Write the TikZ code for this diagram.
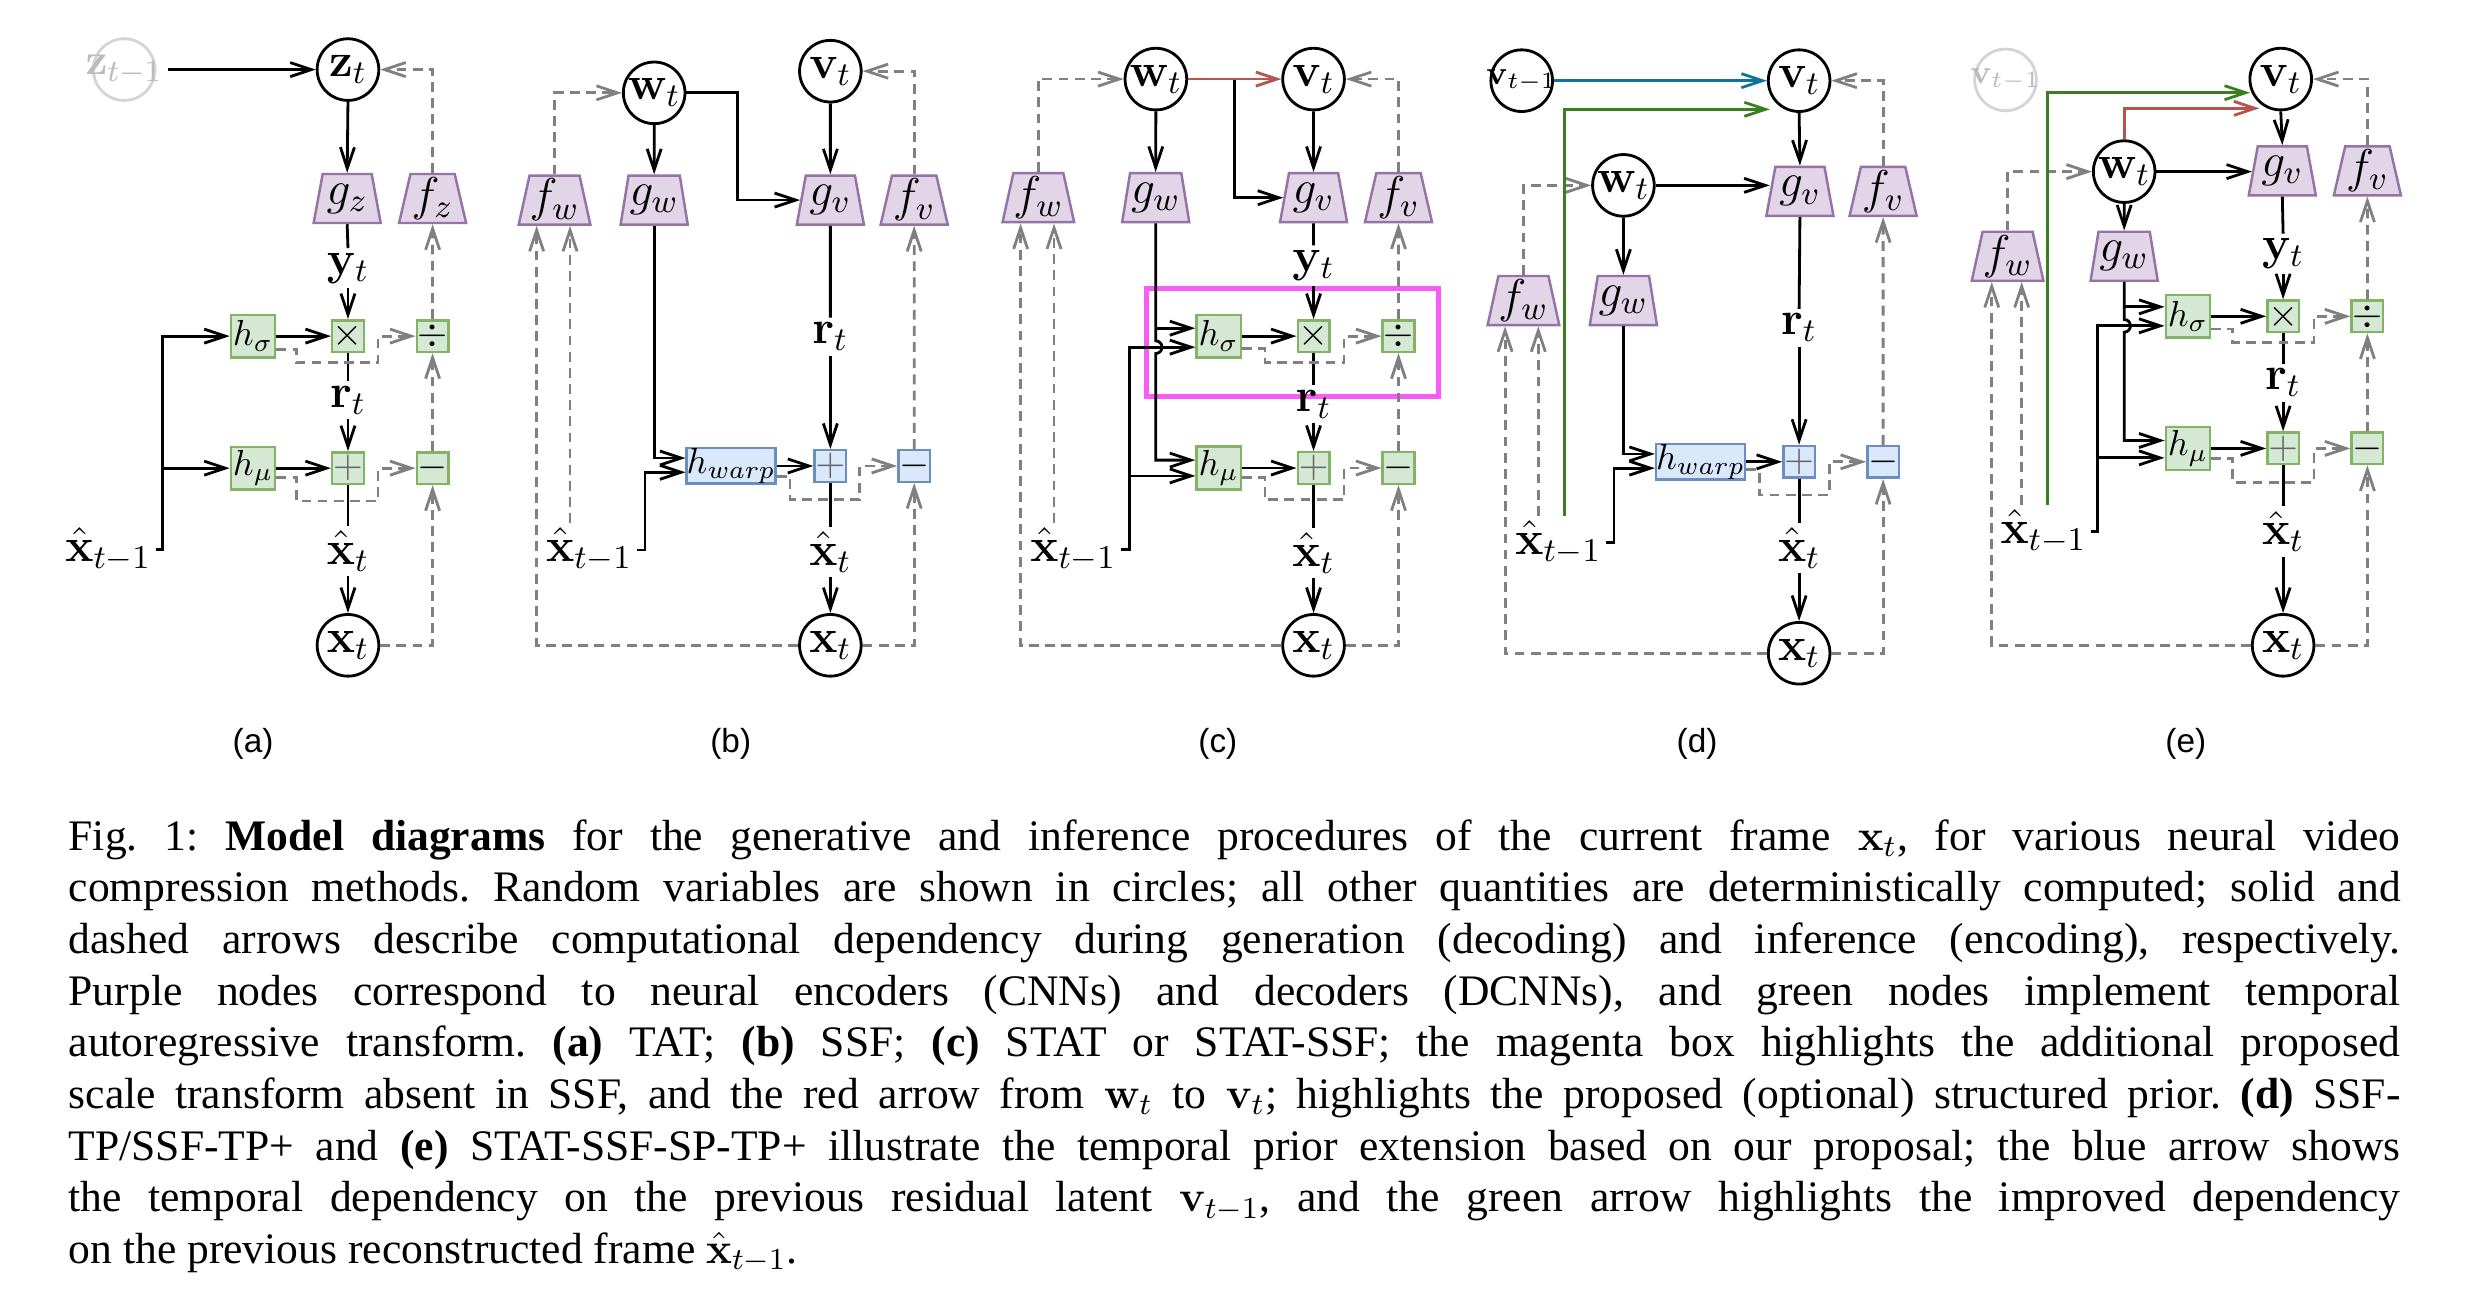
\RequirePackage{fix-cm}
\documentclass[tikz,border=0pt]{standalone}
\usepackage[no-math]{fontspec}
\setmainfont{Liberation Serif}
\newfontfamily\panelfont{Liberation Sans}
\usetikzlibrary{arrows.meta,shapes.geometric,calc}

\definecolor{trapfill}{HTML}{E1D5E7}
\definecolor{trapdraw}{HTML}{9673A6}
\definecolor{gfill}{HTML}{D5E8D4}
\definecolor{gdraw}{HTML}{82B366}
\definecolor{bfill}{HTML}{DAE8FC}
\definecolor{bdraw}{HTML}{6C8EBF}
\definecolor{dgray}{HTML}{808080}
\definecolor{magbox}{HTML}{F75CF7}
\definecolor{redarr}{HTML}{B85450}
\definecolor{bluearr}{HTML}{10739E}
\definecolor{greenarr}{HTML}{3A7F1E}
\definecolor{fadeline}{HTML}{D4D4D4}
\definecolor{fadetext}{HTML}{BBBBBB}
\definecolor{plusgray}{HTML}{666666}

\newcommand\lblfont{\fontsize{13.5}{16}\selectfont}
\newcommand\boxfont{\fontsize{10.3}{12}\selectfont}
\newcommand\opfont{\fontsize{11}{13}\selectfont}
\newcommand\capfont{\fontsize{12.4}{14.7}\selectfont}
\newlength\capw
\setlength\capw{663.75pt}
\newcommand\capline[1]{\hbox to\capw{#1}}

\tikzset{
  arr/.style={-{Straight Barb[length=6pt,width=4pt]}},
  sol/.style={line width=0.8pt,black},
  dsh/.style={line width=0.8pt,dgray,dash pattern=on 2.8pt off 1.8pt},
  colarr/.style={line width=0.8pt,draw=#1},
  circ/.style={circle,draw,line width=0.8pt,minimum size=17.55pt,inner sep=0pt,font=\lblfont,fill=white},
  fadecirc/.style={circle,draw=fadeline,line width=0.8pt,minimum size=17.55pt,inner sep=0pt,fill=white},
  trap/.style={trapezium,trapezium left angle=75.6,trapezium right angle=75.6,trapezium stretches=true,
    minimum width=19.1pt,minimum height=13.95pt,inner sep=0pt,draw=trapdraw,fill=trapfill,line width=0.7pt,font=\lblfont},
  hbx/.style={rectangle,draw=gdraw,fill=gfill,line width=0.7pt,minimum width=12.6pt,minimum height=12.15pt,inner sep=0pt,font=\boxfont},
  opg/.style={rectangle,draw=gdraw,fill=gfill,line width=0.7pt,minimum size=9pt,inner sep=0pt,font=\opfont},
  opb/.style={opg,draw=bdraw,fill=bfill},
  hwb/.style={hbx,draw=bdraw,fill=bfill,minimum width=24.3pt,minimum height=10.1pt},
  lab/.style={inner sep=1.2pt,font=\lblfont},
  plab/.style={font=\panelfont\fontsize{9.5}{11}\selectfont},
}

\begin{document}
\begin{tikzpicture}[x=0.0158163cm,y=-0.0158163cm]
\fill[white] (0,0) rectangle (1568,824);
\useasboundingbox (0,0) rectangle (1568,824);

%================ Panel (a) ================
\node[fadecirc] (azc) at (78.5,44) {};
\node[lab,text=fadetext,font=\fontsize{12.5}{14}\selectfont] (aztm) at (78.5,44) {$\mathbf{z}_{t-1}$};
\node[circ] (azt) at (220,44) {$\mathbf{z}_t$};
\node[trap] (agz) at (219.5,125.5) {$g_z$};
\node[trap] (afz) at (273.5,125.5) {$f_z$};
\node[lab] (ayt) at (220,169.5) {$\mathbf{y}_t$};
\node[hbx] (ahs) at (160,212.5) {$h_\sigma$};
\node[opg] (amul) at (220,212.5) {$\times$};
\node[opg] (adiv) at (273.5,212.5) {$\div$};
\node[lab] (art) at (220,253) {$\mathbf{r}_t$};
\node[hbx] (ahm) at (160,296) {$h_\mu$};
\node[opg,text=plusgray] (aplus) at (220,296) {$+$};
\node[opg] (asub) at (273.5,296) {$-$};
\node[lab] (axht) at (220,348.5) {$\hat{\mathbf{x}}_t$};
\node[circ] (axt) at (220,408) {$\mathbf{x}_t$};
\node[lab] (axh1) at (68.5,347.6) {$\hat{\mathbf{x}}_{t-1}$};

\draw[sol,arr] (aztm.east) -- (azt.west);
\draw[sol,arr] (azt.south) -- (agz.north);
\draw[sol] (agz.south) -- (ayt.north);
\draw[sol,arr] (ayt.south) -- (amul.north);
\draw[sol] (amul.south) -- (art.north);
\draw[sol,arr] (art.south) -- (aplus.north);
\draw[sol] (aplus.south) -- (axht.north);
\draw[sol,arr] (axht.south) -- (axt.north);
\draw[sol,arr] (axh1.east) -| (102.9,0 |- ahs.west) -- (ahs.west);
\draw[sol,arr] (102.9,0 |- ahm.west) -- (ahm.west);
\draw[sol,arr] (ahs.east) -- (amul.west);
\draw[sol,arr] (ahm.east) -- (aplus.west);
\draw[dsh,arr] ($(ahs.east)+(0,8.5)$) -| (187.6,229.4) -| (239,0 |- adiv.west) -- (adiv.west);
\draw[dsh,arr] ($(ahm.east)+(0,6)$) -| (187.6,316.8) -| (239,0 |- asub.west) -- (asub.west);
\draw[dsh,arr] (axt.east) -| (asub.south);
\draw[dsh,arr] (asub.north) -- (adiv.south);
\draw[dsh,arr] (adiv.north) -- (afz.south);
\draw[dsh,arr] (afz.north) |- (azt.east);

%================ Panel (b) ================
\node[circ] (bwt) at (413.6,58.7) {$\mathbf{w}_t$};
\node[circ] (bvt) at (525,45) {$\mathbf{v}_t$};
\node[trap] (bfw) at (350.6,126.5) {$f_w$};
\node[trap] (bgw) at (413.6,126.5) {$g_w$};
\node[trap] (bgv) at (525,126.5) {$g_v$};
\node[trap] (bfv) at (578,126.5) {$f_v$};
\node[lab] (brt) at (525,212.9) {$\mathbf{r}_t$};
\node[hwb] (bhw) at (462.3,294.6) {$h_{warp}$};
\node[opb,text=plusgray] (bplus) at (525,294.6) {$+$};
\node[opb] (bsub) at (578,294.6) {$-$};
\node[lab] (bxht) at (525,349) {$\hat{\mathbf{x}}_t$};
\node[circ] (bxt) at (525,408) {$\mathbf{x}_t$};
\node[lab] (bxh1) at (372.5,347.7) {$\hat{\mathbf{x}}_{t-1}$};
\coordinate (bhwu) at ($(bhw.west)+(0,-5)$);
\coordinate (bhwl) at ($(bhw.west)+(0,4)$);

\draw[sol,arr] (bwt.south) -- (bgw.north);
\draw[sol,arr] (bwt.east) -| (466.2,0 |- bgv.west) -- (bgv.west);
\draw[sol,arr] (bvt.south) -- (bgv.north);
\draw[sol] (bgv.south) -- (brt.north);
\draw[sol,arr] (brt.south) -- (bplus.north);
\draw[sol] (bplus.south) -- (bxht.north);
\draw[sol,arr] (bxht.south) -- (bxt.north);
\draw[sol,arr] (bgw.south) |- (bhwu);
\draw[sol,arr] (bxh1.east) -- (407.8,0 |- bxh1.east) |- (bhwl);
\draw[sol,arr] (bhw.east) -- (bplus.west);
\draw[dsh,arr] ($(bhw.east)+(0,6.5)$) -| (499.5,316) -| (543.3,0 |- bsub.west) -- (bsub.west);
\draw[dsh,arr] (bxt.east) -| (bsub.south);
\draw[dsh,arr] (bsub.north) -- (bfv.south);
\draw[dsh,arr] (bfv.north) |- (bvt.east);
\draw[dsh,arr] (bfw.north) |- (bwt.west);
\draw[dsh,arr] (bxt.west) -| (339.3,0 |- bfw.south);
\draw[dsh,arr] (360.4,0 |- bxh1.north) -- (360.4,0 |- bfw.south);

%================ Panel (c) ================
\draw[magbox,line width=1.5pt] (725,182.3) rectangle (909.4,250.8);
\node[circ] (cwt) at (730.8,50) {$\mathbf{w}_t$};
\node[circ] (cvt) at (830.5,50) {$\mathbf{v}_t$};
\node[trap] (cfw) at (656.5,125) {$f_w$};
\node[trap] (cgw) at (730.7,125) {$g_w$};
\node[trap] (cgv) at (830.5,125) {$g_v$};
\node[trap] (cfv) at (884.2,125) {$f_v$};
\node[lab] (cyt) at (830.5,167.9) {$\mathbf{y}_t$};
\node[hbx] (chs) at (770.5,212.5) {$h_\sigma$};
\node[opg] (cmul) at (830.5,212.5) {$\times$};
\node[opg] (cdiv) at (884.2,212.5) {$\div$};
\node[lab] (crt) at (830.5,255.5) {$\mathbf{r}_t$};
\node[hbx] (chm) at (770.5,295.9) {$h_\mu$};
\node[opg,text=plusgray] (cplus) at (830.5,295.9) {$+$};
\node[opg] (csub) at (884.2,295.9) {$-$};
\node[lab] (cxht) at (830.5,349.5) {$\hat{\mathbf{x}}_t$};
\node[circ] (cxt) at (830.5,408) {$\mathbf{x}_t$};
\node[lab] (cxh1) at (678.6,347.4) {$\hat{\mathbf{x}}_{t-1}$};
\coordinate (chsu) at ($(chs.west)+(0,-5)$);
\coordinate (chsl) at ($(chs.west)+(0,7)$);
\coordinate (chmu) at ($(chm.west)+(0,-5)$);
\coordinate (chml) at ($(chm.west)+(0,5)$);

\draw[sol,arr] (cwt.south) -- (cgw.north);
\draw[sol,arr] (cwt.east) -| (780.4,0 |- cgv.west) -- (cgv.west);
\draw[colarr=redarr,arr] (cwt.east) -- (cvt.west);
\draw[sol,arr] (cvt.south) -- (cgv.north);
\draw[sol] (cgv.south) -- (cyt.north);
\draw[sol,arr] (cyt.south) -- (cmul.north);
\draw[sol] (cmul.south) -- (crt.north);
\draw[sol,arr] (crt.south) -- (cplus.north);
\draw[sol] (cplus.south) -- (cxht.north);
\draw[sol,arr] (cxht.south) -- (cxt.north);
\draw[sol,arr] (cgw.south) -- (730.7,215.5) arc[start angle=90,end angle=-90,radius=1.8pt] |- (chmu);
\draw[sol,arr] (chsu -| cgw.south) -- (chsu);
\draw[sol,arr] (cxh1.east) -- (714,0 |- cxh1.east) |- (chsl);
\draw[sol,arr] (chml -| 714,0) -- (chml);
\draw[sol,arr] (chs.east) -- (cmul.west);
\draw[sol,arr] (chm.east) -- (cplus.west);
\draw[dsh,arr] ($(chs.east)+(0,8)$) -| (799.8,229) -| (849.8,0 |- cdiv.west) -- (cdiv.west);
\draw[dsh,arr] ($(chm.east)+(0,6)$) -| (799.8,316) -| (849.8,0 |- csub.west) -- (csub.west);
\draw[dsh,arr] (cxt.east) -| (csub.south);
\draw[dsh,arr] (csub.north) -- (cdiv.south);
\draw[dsh,arr] (cdiv.north) -- (cfv.south);
\draw[dsh,arr] (cfv.north) |- (cvt.east);
\draw[dsh,arr] (cfw.north) |- (cwt.west);
\draw[dsh,arr] (cxt.west) -| (645.3,0 |- cfw.south);
\draw[dsh,arr] (666.4,0 |- cxh1.north) -- (666.4,0 |- cfw.south);

%================ Panel (d) ================
\node[circ] (dvtm) at (962.1,51) {};
\node[inner sep=0pt,font=\fontsize{9.5}{11}\selectfont] (dvtmt) at (962.1,51) {$\mathbf{v}_{t-1}$};
\node[circ] (dvt) at (1137.5,51) {$\mathbf{v}_t$};
\node[circ] (dwt) at (1026.4,117.2) {$\mathbf{w}_t$};
\node[trap] (dgv) at (1138,121) {$g_v$};
\node[trap] (dfv) at (1190.6,121) {$f_v$};
\node[trap] (dfw) at (963.2,190) {$f_w$};
\node[trap] (dgw) at (1026.4,190) {$g_w$};
\node[lab] (drt) at (1137.5,207.3) {$\mathbf{r}_t$};
\node[hwb] (dhw) at (1075.2,292) {$h_{warp}$};
\node[opb,text=plusgray] (dplus) at (1137.5,292) {$+$};
\node[opb] (dsub) at (1190.6,292) {$-$};
\node[lab] (dxht) at (1137.5,346.5) {$\hat{\mathbf{x}}_t$};
\node[circ] (dxt) at (1137.5,413) {$\mathbf{x}_t$};
\node[lab] (dxh1) at (985.3,343) {$\hat{\mathbf{x}}_{t-1}$};
\coordinate (dhwu) at ($(dhw.west)+(0,-5)$);
\coordinate (dhwl) at ($(dhw.west)+(0,4)$);
\coordinate (dgend) at (1119,69.1);

\draw[colarr=bluearr,arr] (dvtm.east) -- (dvt.west);
\draw[sol,arr] (dvt.south) -- (dgv.north);
\draw[sol,arr] (dwt.east) -- (dwt.east -| dgv.west);
\draw[sol,arr] (dwt.south) -- (dgw.north);
\draw[sol] (dgv.south) -- (drt.north);
\draw[sol,arr] (drt.south) -- (dplus.north);
\draw[sol] (dplus.south) -- (dxht.north);
\draw[sol,arr] (dxht.south) -- (dxt.north);
\draw[sol,arr] (dgw.south) |- (dhwu);
\draw[sol,arr] (dxh1.east) -- (1020.5,0 |- dxh1.east) |- (dhwl);
\draw[sol,arr] (dhw.east) -- (dplus.west);
\draw[dsh,arr] ($(dhw.east)+(0,5)$) -| (1112.4,313) -| (1156.6,0 |- dsub.west) -- (dsub.west);
\draw[dsh,arr] (dxt.east) -| (dsub.south);
\draw[dsh,arr] (dsub.north) -- (dfv.south);
\draw[dsh,arr] (dfv.north) |- (dvt.east);
\draw[dsh,arr] (dfw.north) |- (dwt.west);
\draw[dsh,arr] (dxt.west) -| (951.6,0 |- dfw.south);
\draw[dsh,arr] (972.6,0 |- dxh1.north) -- (972.6,0 |- dfw.south);
\draw[colarr=greenarr,arr] (988.9,0 |- dxh1.north) |- (dgend);

%================ Panel (e) ================
\node[fadecirc] (evtm) at (1268,50.5) {};
\node[inner sep=0pt,text=fadetext,font=\fontsize{9.5}{11}\selectfont] (evtmt) at (1268,50.5) {$\mathbf{v}_{t-1}$};
\node[circ] (evt) at (1442,50) {$\mathbf{v}_t$};
\node[circ] (ewt) at (1343,108.5) {$\mathbf{w}_t$};
\node[trap] (egv) at (1443,108) {$g_v$};
\node[trap] (efv) at (1496.8,108) {$f_v$};
\node[trap] (efw) at (1269.3,162) {$f_w$};
\node[trap] (egw) at (1343,162) {$g_w$};
\node[lab] (eyt) at (1443.5,160.4) {$\mathbf{y}_t$};
\node[hbx] (ehs) at (1383.3,200) {$h_\sigma$};
\node[opg] (emul) at (1443.5,200) {$\times$};
\node[opg] (ediv) at (1496.8,200) {$\div$};
\node[lab] (ert) at (1443.5,242) {$\mathbf{r}_t$};
\node[hbx] (ehm) at (1383.3,283.5) {$h_\mu$};
\node[opg,text=plusgray] (eplus) at (1443.5,283.5) {$+$};
\node[opg] (esub) at (1496.8,283.5) {$-$};
\node[lab] (exht) at (1443.5,336) {$\hat{\mathbf{x}}_t$};
\node[circ] (ext) at (1443.5,408) {$\mathbf{x}_t$};
\node[lab] (exh1) at (1292,336) {$\hat{\mathbf{x}}_{t-1}$};
\coordinate (ehsu) at ($(ehs.west)+(0,-6)$);
\coordinate (ehsl) at ($(ehs.west)+(0,6)$);
\coordinate (ehmu) at ($(ehm.west)+(0,-5)$);
\coordinate (ehml) at ($(ehm.west)+(0,6)$);
\coordinate (egend) at (1422.6,58.6);
\coordinate (erend) at (1428.5,68.5);

\draw[sol,arr] (evt.south) -- (egv.north);
\draw[sol,arr] (ewt.east) -- (ewt.east -| egv.west);
\draw[sol,arr] (ewt.south) -- (egw.north);
\draw[sol] (egv.south) -- (eyt.north);
\draw[sol,arr] (eyt.south) -- (emul.north);
\draw[sol] (emul.south) -- (ert.north);
\draw[sol,arr] (ert.south) -- (eplus.north);
\draw[sol] (eplus.south) -- (exht.north);
\draw[sol,arr] (exht.south) -- (ext.north);
\draw[sol,arr] (egw.south) -- (1343,202) arc[start angle=90,end angle=-90,radius=1.8pt] |- (ehmu);
\draw[sol,arr] (ehsu -| egw.south) -- (ehsu);
\draw[sol,arr] (exh1.east) -- (1326.3,0 |- exh1.east) |- (ehsl);
\draw[sol,arr] (ehml -| 1326.3,0) -- (ehml);
\draw[sol,arr] (ehs.east) -- (emul.west);
\draw[sol,arr] (ehm.east) -- (eplus.west);
\draw[dsh,arr] ($(ehs.east)+(0,8)$) -| (1411.7,216.5) -| (1463,0 |- ediv.west) -- (ediv.west);
\draw[dsh,arr] ($(ehm.east)+(0,6.5)$) -| (1411.7,304.8) -| (1463,0 |- esub.west) -- (esub.west);
\draw[dsh,arr] (ext.east) -| (esub.south);
\draw[dsh,arr] (esub.north) -- (ediv.south);
\draw[dsh,arr] (ediv.north) -- (efv.south);
\draw[dsh,arr] (efv.north) |- (evt.east);
\draw[dsh,arr] (efw.north) |- (ewt.west);
\draw[dsh,arr] (ext.west) -| (1259.3,0 |- efw.south);
\draw[dsh,arr] (1278.2,0 |- exh1.north) -- (1278.2,0 |- efw.south);
\draw[colarr=greenarr,arr] (1294.7,0 |- exh1.north) |- (egend);
\draw[colarr=redarr,arr] (ewt.north) |- (erend);

%================ Panel labels ================
\node[plab] (la) at (160,470) {(a)};
\node[plab] (lb) at (462,470) {(b)};
\node[plab] (lc) at (770,470) {(c)};
\node[plab] (ld) at (1073,470) {(d)};
\node[plab] (le) at (1382,470) {(e)};

%================ Caption ================
\node[anchor=base west,inner sep=0pt,font=\capfont] (caption) at (43,537.5) {\parbox[t]{\capw}{\frenchspacing\setlength{\baselineskip}{14.7pt}%
\capline{Fig. 1: \textbf{Model diagrams} for the generative and inference procedures of the current frame $\mathbf{x}_t$, for various neural video}%
\capline{compression methods. Random variables are shown in circles; all other quantities are deterministically computed; solid and}%
\capline{dashed arrows describe computational dependency during generation (decoding) and inference (encoding), respectively.}%
\capline{Purple nodes correspond to neural encoders (CNNs) and decoders (DCNNs), and green nodes implement temporal}%
\capline{autoregressive transform. \textbf{(a)} TAT; \textbf{(b)} SSF; \textbf{(c)} STAT or STAT-SSF; the magenta box highlights the additional proposed}%
\capline{scale transform absent in SSF, and the red arrow from $\mathbf{w}_t$ to $\mathbf{v}_t$; highlights the proposed (optional) structured prior. \textbf{(d)} SSF-}%
\capline{TP/SSF-TP+ and \textbf{(e)} STAT-SSF-SP-TP+ illustrate the temporal prior extension based on our proposal; the blue arrow shows}%
\capline{the temporal dependency on the previous residual latent $\mathbf{v}_{t-1}$, and the green arrow highlights the improved dependency}%
\hbox{on the previous reconstructed frame $\hat{\mathbf{x}}_{t-1}$.}}};
\end{tikzpicture}
\end{document}
